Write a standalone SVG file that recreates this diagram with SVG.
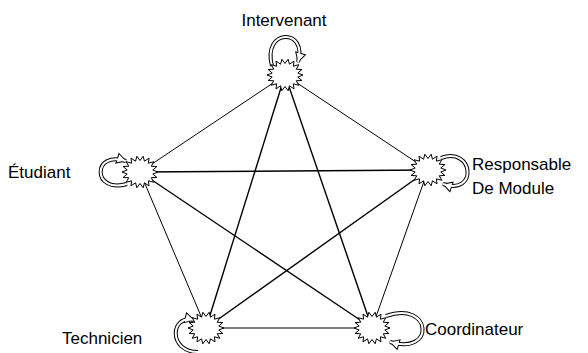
<svg xmlns="http://www.w3.org/2000/svg" width="588" height="353" viewBox="0 0 588 353">
<style>
.e{stroke:#000;fill:none}
.thin{stroke-width:1}
.bold{stroke-width:1.4}
.star{fill:#fff;stroke:#000;stroke-width:1}
.lo{fill:none;stroke:#000;stroke-width:4}
.li{fill:none;stroke:#fff;stroke-width:2}
text{font-family:"Liberation Sans",Arial,sans-serif;font-size:17px;fill:#000}
</style>
<defs>
<polygon id="burst" points="18,0 12.81,2 16.92,5.47 11.26,5.75 13.79,10.29 8.36,8.81 9,13.86 4.45,10.81 3.13,15.76 0,11.5 -3.13,15.76 -4.45,10.81 -9,13.86 -8.36,8.81 -13.79,10.29 -11.26,5.75 -16.92,5.47 -12.81,2 -18,0 -12.81,-2 -16.92,-5.47 -11.26,-5.75 -13.79,-10.29 -8.36,-8.81 -9,-13.86 -4.45,-10.81 -3.13,-15.76 0,-11.5 3.13,-15.76 4.45,-10.81 9,-13.86 8.36,-8.81 13.79,-10.29 11.26,-5.75 16.92,-5.47 12.81,-2"/>
<marker id="ah" markerUnits="userSpaceOnUse" markerWidth="12" markerHeight="12" refX="9" refY="5" orient="auto" viewBox="0 0 12 10" overflow="visible">
<path d="M0,0 L9,5 L0,10 Z" fill="#fff" stroke="#000" stroke-width="1"/>
</marker>
</defs>
<g id="connectors">
<line class="e thin" x1="285" y1="75" x2="428" y2="170"/>
<line class="e thin" x1="428" y1="170" x2="372" y2="328"/>
<line class="e thin" x1="372" y1="328" x2="206" y2="328"/>
<line class="e thin" x1="206" y1="328" x2="140" y2="172"/>
<line class="e thin" x1="140" y1="172" x2="285" y2="75"/>
<line class="e bold" x1="285" y1="75" x2="206" y2="328"/>
<line class="e bold" x1="285" y1="75" x2="372" y2="328"/>
<line class="e bold" x1="140" y1="172" x2="428" y2="170"/>
<line class="e bold" x1="140" y1="172" x2="372" y2="328"/>
<line class="e bold" x1="428" y1="170" x2="206" y2="328"/>
</g>
<g id="loops">
<path class="lo" d="M272,66 C262,28 308,28 298,62" marker-end="url(#ah)"/>
<path class="li" d="M272,66 C262,28 308,28 298,62"/>
<path class="lo" d="M441,158 C474,146 478,196 443,184" marker-end="url(#ah)"/>
<path class="li" d="M441,158 C474,146 478,196 443,184"/>
<path class="lo" d="M127,184 C92,194 92,150 126,161" marker-end="url(#ah)"/>
<path class="li" d="M127,184 C92,194 92,150 126,161"/>
<path class="lo" d="M198,352 C168,352 170,314 194,320" marker-end="url(#ah)"/>
<path class="li" d="M198,352 C168,352 170,314 194,320"/>
<path class="lo" d="M386,316 C432,300 436,356 390,342" marker-end="url(#ah)"/>
<path class="li" d="M386,316 C432,300 436,356 390,342"/>
</g>
<g id="intervenant"><use href="#burst" class="star" x="285" y="75"/><text x="284" y="26" text-anchor="middle">Intervenant</text></g>
<g id="responsable"><use href="#burst" class="star" x="428" y="170"/><text x="472" y="170">Responsable</text><text x="472" y="194">De Module</text></g>
<g id="etudiant"><use href="#burst" class="star" x="140" y="172"/><text x="8" y="178">Étudiant</text></g>
<g id="technicien"><use href="#burst" class="star" x="206" y="328"/><text x="62" y="344">Technicien</text></g>
<g id="coordinateur"><use href="#burst" class="star" x="372" y="328"/><text x="425" y="335">Coordinateur</text></g>
</svg>
